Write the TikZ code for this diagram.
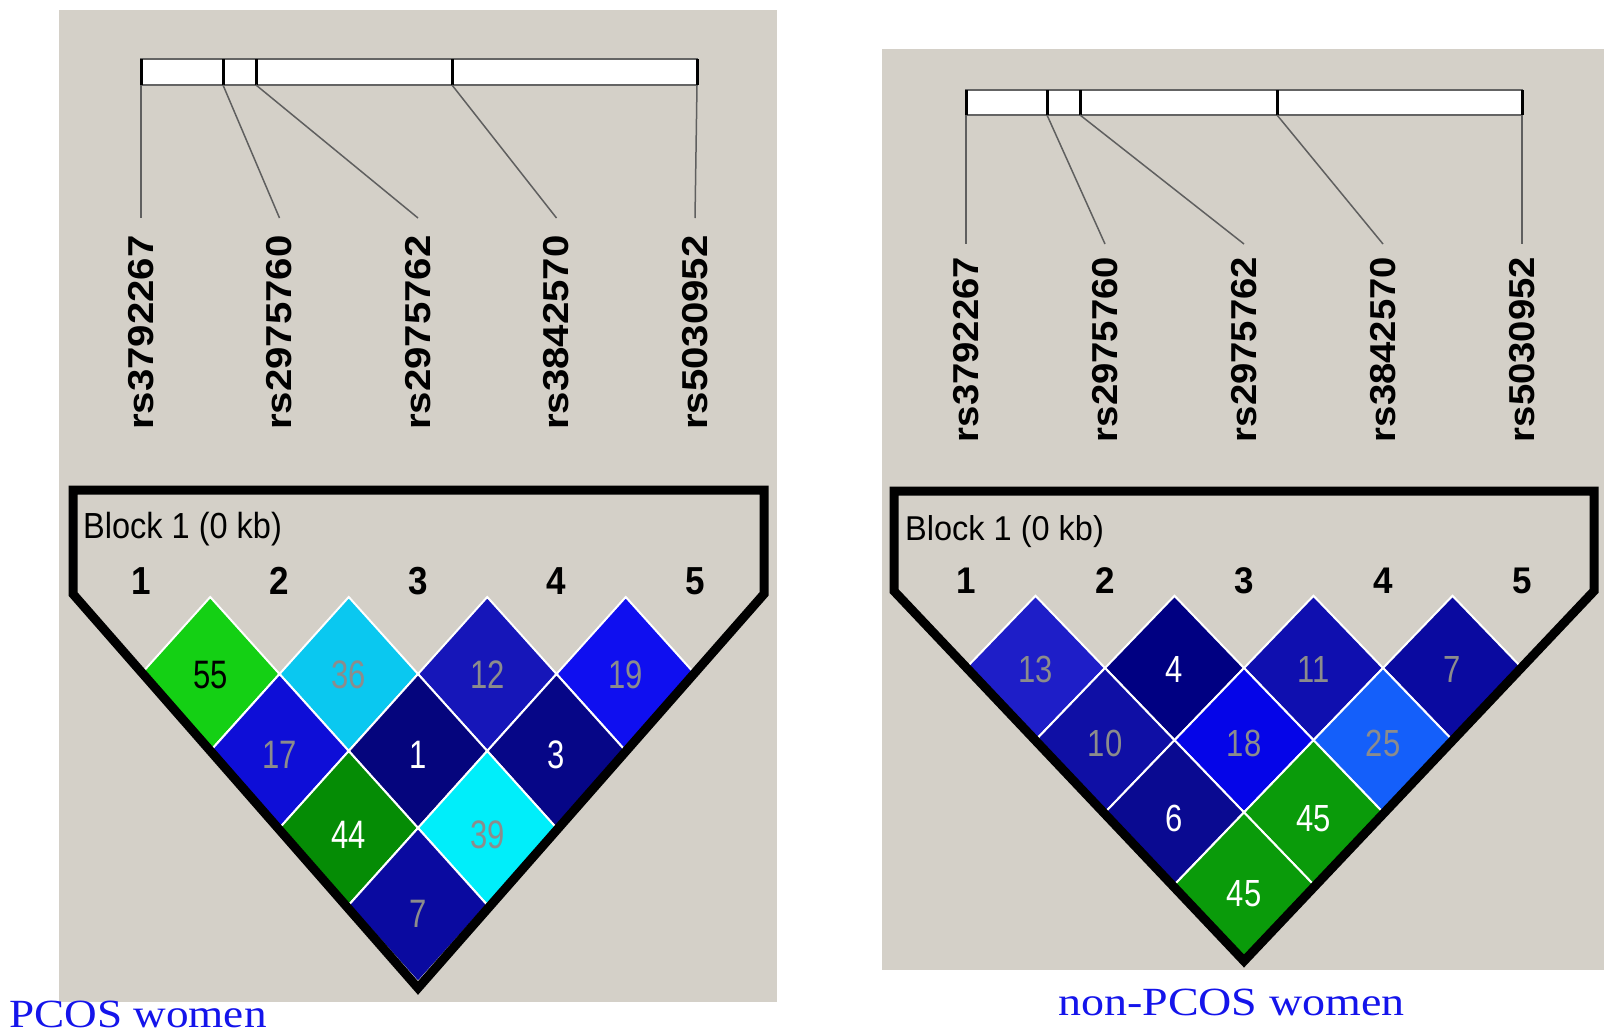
\documentclass[tikz,border=0pt]{standalone}
\usepackage{fontspec}
\usepackage{graphicx}
\newfontfamily\hv{Liberation Sans}
\newfontfamily\capfont{Liberation Serif}
\definecolor{winbg}{RGB}{212,208,200}
\definecolor{bargray}{RGB}{100,100,100}
\definecolor{conngray}{RGB}{95,95,95}
\definecolor{dgray}{RGB}{140,140,140}
\definecolor{capblue}{RGB}{20,20,235}
% left cells
\definecolor{lgA}{RGB}{20,208,20}
\definecolor{lsA}{RGB}{10,200,240}
\definecolor{lbA}{RGB}{22,22,185}
\definecolor{lbB}{RGB}{15,15,240}
\definecolor{lbC}{RGB}{14,14,215}
\definecolor{lnA}{RGB}{5,5,125}
\definecolor{lnB}{RGB}{6,6,135}
\definecolor{lgB}{RGB}{5,140,5}
\definecolor{lcA}{RGB}{0,238,250}
\definecolor{lnC}{RGB}{10,10,160}
% right cells
\definecolor{rbA}{RGB}{30,30,200}
\definecolor{rnA}{RGB}{0,0,130}
\definecolor{rbB}{RGB}{15,15,175}
\definecolor{rbC}{RGB}{10,10,160}
\definecolor{rbD}{RGB}{15,15,165}
\definecolor{rbE}{RGB}{5,5,232}
\definecolor{raA}{RGB}{20,95,250}
\definecolor{rnB}{RGB}{10,10,145}
\definecolor{rgA}{RGB}{10,155,10}
\tikzset{
  panelbg/.style={fill=winbg},
  barbox/.style={fill=white, draw=bargray, line width=2},
  barstroke/.style={draw=black, line width=3},
  conn/.style={draw=conngray, line width=1.5},
  rslab/.style={rotate=90, inner sep=0, font=\hv\bfseries\fontsize{36}{40}\selectfont},
  numlab/.style={inner sep=0, font=\hv\bfseries\fontsize{35}{40}\selectfont},
  blocklab/.style={inner sep=0, anchor=base west, font=\hv\fontsize{32.5}{38}\selectfont},
  cell/.style={draw=white, line width=2},
  celltext/.style={inner sep=0, font=\hv\fontsize{31}{36}\selectfont},
  blockline/.style={draw=black, line width=9, line join=miter},
  caption/.style={inner sep=0, anchor=base west, text=capblue, font=\capfont\fontsize{40}{46}\selectfont}
}
\begin{document}
\begin{tikzpicture}[x=1pt,y=-1pt]
\useasboundingbox (0,0) rectangle (1612,1034);
\fill[white] (0,0) rectangle (1612,1034);
\fill[panelbg] (59,10) rectangle (777,1002);
\fill[panelbg] (882,49) rectangle (1604,970);

% ================= LEFT PANEL =================
\draw[barbox] (141,59) rectangle (697,85);
\foreach \x [count=\i] in {141,223,256,452,697} {
  \coordinate (lt\i) at (\x,85);
  \draw[barstroke] (\x,59) -- (lt\i);
}
\foreach \x/\name [count=\i] in {141/rs3792267,279.5/rs2975760,418/rs2975762,556.5/rs3842570,695/rs5030952} {
  \coordinate (le\i) at (\x,218);
  \node[rslab] (llab\i) at (\x,332.5) {\scalebox{1.116}[1]{\name}};
  \draw[conn] (lt\i) -- (le\i);
  \node[numlab] (lnum\i) at (\x,581) {\scalebox{1}[1.116]{\i}};
}
\node[blocklab] (lblock) at (83,538) {\scalebox{1}[1.116]{Block 1 (0 kb)}};
\foreach \cx/\r/\col/\t/\tc [count=\k] in {210.25/1/lgA/55/black, 348.75/1/lsA/36/dgray, 487.25/1/lbA/12/dgray, 625.75/1/lbB/19/dgray, 279.5/2/lbC/17/dgray, 418/2/lnA/1/white, 556.5/2/lnB/3/white, 348.75/3/lgB/44/white, 487.25/3/lcA/39/dgray, 418/4/lnC/7/dgray} {
  \pgfmathsetmacro\cy{674+77*(\r-1)}
  \pgfmathsetmacro\ty{\cy+1+2.7*(\r-1)}
  \filldraw[cell, fill=\col] (\cx,\cy-77) -- (\cx+69.25,\cy) -- (\cx,\cy+77) -- (\cx-69.25,\cy) -- cycle;
  \node[celltext, text=\tc] (lc\k) at (\cx,\ty) {\scalebox{1}[1.28]{\t}};
}
\draw[blockline] (73,490) -- (764,490) -- (764,594) -- (418,988) -- (73,594) -- cycle;
\node[caption] (lcap) at (9,1027) {\scalebox{1.13}[1]{PCOS women}};

% ================= RIGHT PANEL =================
\draw[barbox] (966,90) rectangle (1522,115);
\foreach \x [count=\i] in {966,1047,1080,1277,1522} {
  \coordinate (rt\i) at (\x,115);
  \draw[barstroke] (\x,90) -- (rt\i);
}
\foreach \x/\name [count=\i] in {966/rs3792267,1105/rs2975760,1244/rs2975762,1383/rs3842570,1522/rs5030952} {
  \coordinate (re\i) at (\x,244);
  \node[rslab] (rlab\i) at (\x,349.5) {\scalebox{1.063}[1]{\name}};
  \draw[conn] (rt\i) -- (re\i);
  \node[numlab] (rnum\i) at (\x,581) {\scalebox{1}[1.06]{\i}};
}
\node[blocklab] (rblock) at (905,540) {\scalebox{1}[1.06]{Block 1 (0 kb)}};
\foreach \cx/\r/\col/\t/\tc [count=\k] in {1035.5/1/rbA/13/dgray, 1174.5/1/rnA/4/white, 1313.5/1/rbB/11/dgray, 1452.5/1/rbC/7/dgray, 1105/2/rbD/10/dgray, 1244/2/rbE/18/dgray, 1383/2/raA/25/dgray, 1174.5/3/rnB/6/white, 1313.5/3/rgA/45/white, 1244/4/rgA/45/white} {
  \pgfmathsetmacro\cy{668+72.2*(\r-1)}
  \pgfmathsetmacro\ty{\cy+1+2.7*(\r-1)}
  \filldraw[cell, fill=\col] (\cx,\cy-72.2) -- (\cx+69.5,\cy) -- (\cx,\cy+72.2) -- (\cx-69.5,\cy) -- cycle;
  \node[celltext, text=\tc] (rc\k) at (\cx,\ty) {\scalebox{1}[1.22]{\t}};
}
\draw[blockline] (894,491) -- (1594,491) -- (1594,591) -- (1244,961) -- (894,591) -- cycle;
\node[caption] (rcap) at (1058,1015) {\scalebox{1.15}[1]{non-PCOS women}};
\end{tikzpicture}
\end{document}
